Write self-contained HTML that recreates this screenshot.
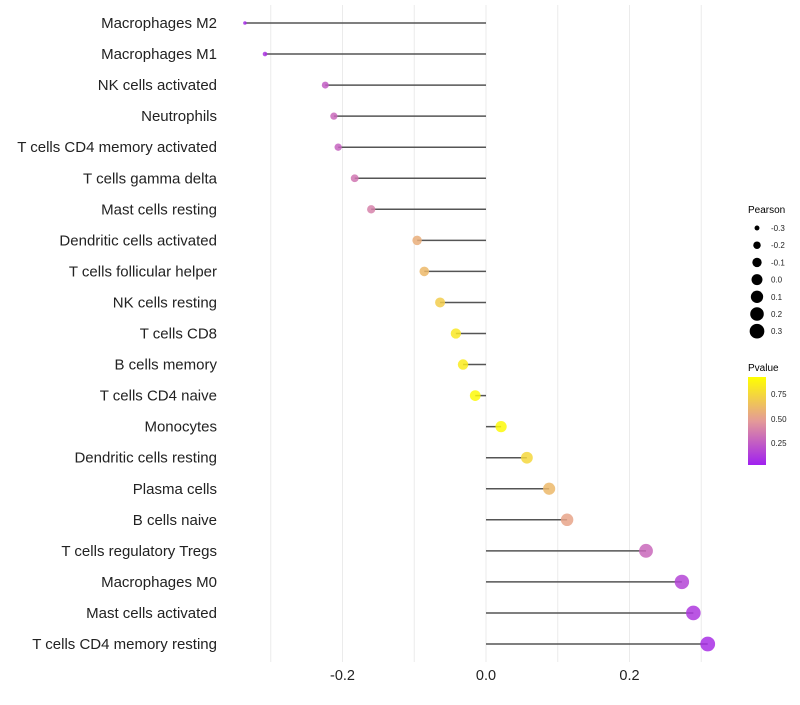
<!DOCTYPE html>
<html><head><meta charset="utf-8"><style>body{margin:0;background:#fff}svg{font-family:"Liberation Sans",sans-serif}</style></head>
<body>
<svg id="chart" width="800" height="700" xmlns="http://www.w3.org/2000/svg">
<defs><linearGradient id="pg" x1="0" y1="1" x2="0" y2="0">
<stop offset="0" stop-color="#a020f0"/><stop offset="0.5" stop-color="#e49a98"/><stop offset="1" stop-color="#ffff00"/></linearGradient></defs>
<g id="grid"></g>
<g id="marks"></g>
<g id="ylabels" style="white-space:pre"></g>
<g id="xlabels"></g>
<g id="sizeleg">
<text x="748" y="213" font-size="10">Pearson</text>
</g>
<g>
<text x="748" y="371" font-size="10">Pvalue</text>
<rect x="748" y="377" width="18" height="88" fill="url(#pg)"/>
<g font-size="8" fill="#222">
<text x="771" y="397">0.75</text>
<text x="771" y="422">0.50</text>
<text x="771" y="446">0.25</text>
</g></g>
</svg>
<script>
const categories=["Macrophages M2","Macrophages M1","NK cells activated","Neutrophils","T cells CD4 memory activated","T cells gamma delta","Mast cells resting","Dendritic cells activated","T cells follicular helper","NK cells resting","T cells CD8","B cells memory","T cells CD4 naive","Monocytes","Dendritic cells resting","Plasma cells","B cells naive","T cells regulatory  Tregs","Macrophages M0","Mast cells activated","T cells CD4 memory resting"];
const pearson=[-0.336,-0.308,-0.224,-0.212,-0.206,-0.183,-0.160,-0.096,-0.086,-0.064,-0.042,-0.032,-0.015,0.021,0.057,0.088,0.113,0.223,0.273,0.289,0.309];
const pvalue=[0.05,0.08,0.25,0.3,0.28,0.35,0.4,0.6,0.65,0.75,0.88,0.9,0.97,0.97,0.8,0.65,0.55,0.3,0.15,0.1,0.06];
const xTicks=[-0.2,0,0.2];
const gridTicks=[-0.3,-0.2,-0.1,0,0.1,0.2,0.3];
const sizeLegend=[-0.3,-0.2,-0.1,0.0,0.1,0.2,0.3];
const NS="http://www.w3.org/2000/svg";
const x=v=>486+v*717.5;
const y=i=>23+i*31.05;
const r=v=>Math.sqrt(Math.max(2,30+80*v));
function lerp(a,b,t){return a.map((c,k)=>Math.round(c+(b[k]-c)*t));}
function col(p){const A=[160,32,240],B=[228,154,152],C=[255,255,0];const c=p<0.5?lerp(A,B,p/0.5):lerp(B,C,(p-0.5)/0.5);return `rgb(${c})`;}
function mk(t,a,parent){const e=document.createElementNS(NS,t);for(const k in a)e.setAttribute(k,a[k]);parent.appendChild(e);return e;}
const grid=document.getElementById('grid'),marks=document.getElementById('marks'),yl=document.getElementById('ylabels'),xl=document.getElementById('xlabels'),sl=document.getElementById('sizeleg');
gridTicks.forEach(t=>{const g=mk('line',{x1:x(t),x2:x(t),y1:5,y2:662,stroke:'#ebebeb','stroke-width':1},grid);

});
xTicks.forEach(t=>{const e=mk('text',{x:x(t),y:680,'font-size':14.5,'text-anchor':'middle',fill:'#222'},xl);e.textContent=t===0?'0.0':t.toFixed(1);

});
categories.forEach((c,i)=>{
const ln=mk('line',{x1:x(0),x2:x(pearson[i]),y1:y(i),y2:y(i),stroke:'#555','stroke-width':1.5},marks);


const ci=mk('circle',{cx:x(pearson[i]),cy:y(i),r:r(pearson[i]),fill:col(pvalue[i]),'fill-opacity':0.85},marks);


const t=mk('text',{x:217,y:y(i)+5,'font-size':15,'text-anchor':'end',fill:'#222'},yl);t.textContent=c;

});
sizeLegend.forEach((v,i)=>{const yy=228+i*17.2;
const c=mk('circle',{cx:757,cy:yy,r:r(v),fill:'#000'},sl);


const t=mk('text',{x:771,y:yy+3,'font-size':8,fill:'#222'},sl);t.textContent=v.toFixed(1);

});
</script>
</body></html>
